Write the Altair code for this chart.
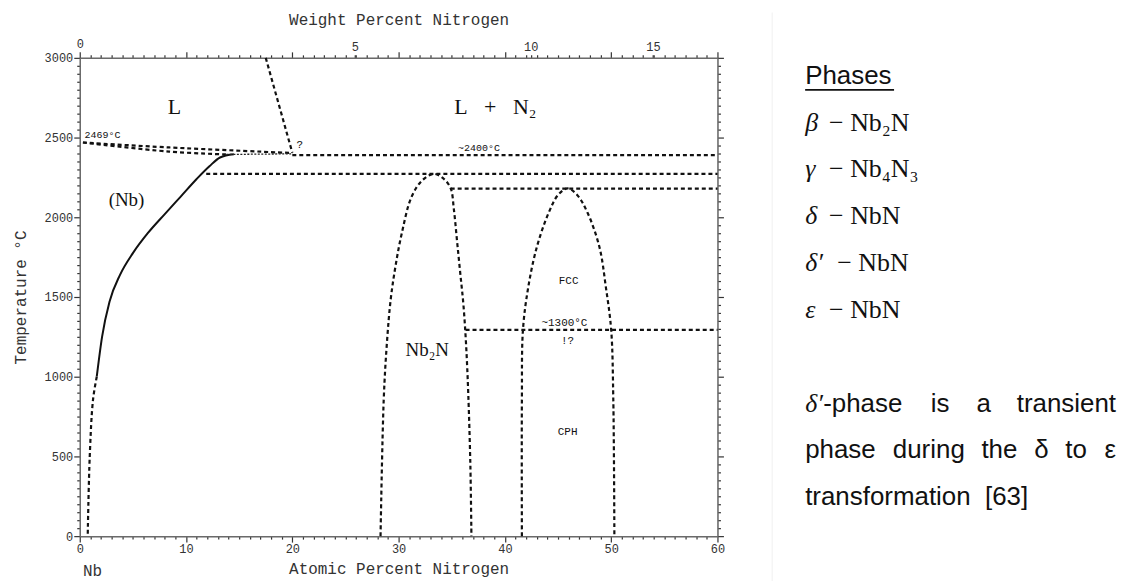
import altair as alt
import pandas as pd

# ---------------- axis tick values ----------------
at_minor = list(range(0, 61))            # atomic % ticks
t_minor = list(range(0, 3001, 50))       # temperature ticks
wt_labels = [0, 5, 10, 15]               # weight % labels on top axis


def wt_to_at(w):
    n = w / 14.007
    nb = (100 - w) / 92.906
    return round(100 * n / (n + nb), 3)


wt_pos = [wt_to_at(w) for w in wt_labels]

# ---------------- phase boundary data (atomic % N, temperature C) ----------------
nb_solvus_x = [1.6, 2.1, 2.8, 3.8, 5.0, 6.4, 8.0, 9.5, 11.0, 12.2, 13.2, 14.5]
nb_solvus_T = [1000, 1250, 1470, 1640, 1775, 1900, 2020, 2130, 2240, 2320, 2375, 2395]

nb_solvus_low_x = [1.6, 1.25, 0.94, 0.75]
nb_solvus_low_T = [1000, 856, 500, 0]

liquidus_x = [0.3, 8.4, 20.0]
liquidus_T = [2469, 2438, 2403]
solidus_x = [0.3, 8.4, 13.8]
solidus_T = [2469, 2412, 2394]
wavy_x = [13.8, 20.0]
wavy_T = [2394, 2398]
gas_x = [17.5, 20.0]
gas_T = [3000, 2405]

h2400_x = [20.0, 60]
h2400_T = [2390, 2390]
h2270_x = [11.9, 60]
h2270_T = [2272, 2272]
h2180_x = [34.9, 60]
h2180_T = [2180, 2180]
h1300_x = [36.3, 60]
h1300_T = [1294, 1294]

nb2n_x = [28.3, 28.6, 28.9, 29.25, 29.7, 30.3, 31.2, 32.2, 33.3, 34.2, 34.9, 35.2, 35.5, 35.8, 36.1, 36.35, 36.55, 36.75, 36.85]
nb2n_T = [0, 856, 1212, 1481, 1690, 1900, 2125, 2230, 2272, 2244, 2181, 2050, 1850, 1650, 1450, 1200, 900, 450, 0]

fcc_x = [41.6, 41.6, 41.7, 42.2, 43.0, 44.1, 45.0, 45.9, 46.8, 47.8, 48.9, 49.5, 50.0, 50.2, 50.3]
fcc_T = [0, 856, 1294, 1562, 1812, 2025, 2140, 2181, 2140, 2025, 1812, 1562, 1294, 856, 0]

dashed_segments = {
    "nb_low": (nb_solvus_low_x, nb_solvus_low_T),
    "liquidus": (liquidus_x, liquidus_T),
    "solidus": (solidus_x, solidus_T),
    "gas": (gas_x, gas_T),
    "h2400": (h2400_x, h2400_T),
    "h2270": (h2270_x, h2270_T),
    "h2180": (h2180_x, h2180_T),
    "h1300": (h1300_x, h1300_T),
    "nb2n": (nb2n_x, nb2n_T),
    "fcc": (fcc_x, fcc_T),
}


def to_df(segs):
    rows = []
    for name, (xs_, ts) in segs.items():
        for i, (x, t) in enumerate(zip(xs_, ts)):
            rows.append({"seg": name, "i": i, "x": x, "T": t})
    return pd.DataFrame(rows)


dash_df = to_df(dashed_segments)
solid_df = to_df({"nb": (nb_solvus_x, nb_solvus_T)})
wavy_df = to_df({"wavy": (wavy_x, wavy_T)})

# ---------------- labels in the diagram ----------------
NB = "\u00a0"
big_labels = pd.DataFrame({"x": [8.9, 39.1], "T": [2690, 2690],
                           "text": ["L", f"L{NB*3}+{NB*3}N₂"]})
mid_labels = pd.DataFrame({"x": [4.4, 32.7], "T": [2110, 1170], "text": ["(Nb)", "Nb₂N"]})
small_left = pd.DataFrame({"x": [0.45, 35.6], "T": [2515, 2432], "text": ["2469°C", "~2400°C"]})
small_center = pd.DataFrame({
    "x": [20.7, 45.6, 45.9, 46.0, 45.9],
    "T": [2455, 1335, 1225, 1600, 650],
    "text": ["?", "~1300°C", "!?", "FCC", "CPH"],
})
nb_label = pd.DataFrame({"x": [1.2], "T": [-220], "text": ["Nb"]})

# ---------------- side panel text ----------------
side_rows = [0, 7, 7, 7, 7, 8, 8, 8, 8, 8, 8, 9]
side_words = ["Phases", "-phase", "is", "a", "transient", "phase", "during", "the", "δ", "to", "ε",
              f"transformation{NB} [63]"]
side_pos = [0, 0.058, 0.404, 0.551, 1.0, 0, 0.282, 0.567, 0.737, 0.837, 1.0, 0]
side_align = ["left", "left", "left", "left", "right", "left", "left", "left", "left", "left", "right", "left"]
side_df = pd.DataFrame({"row": side_rows, "sx": side_pos, "text": side_words, "al": side_align})

greek_df = pd.DataFrame({"row": [1, 2, 3, 4, 5, 7], "sx": [0, 0, 0, 0, 0, 0],
                         "text": ["β", "γ", "δ", "δ′", "ε", "δ′"]})
formula_df = pd.DataFrame({"row": [1, 2, 3, 4, 5], "sx": [0.077, 0.077, 0.077, 0.103, 0.077],
                           "text": ["− Nb₂N", "− Nb₄N₃", "− NbN", "− NbN", "− NbN"]})
underline_df = pd.DataFrame({"row": [0.3], "sx": [0.0], "sx2": [0.286]})
sep_df = pd.DataFrame({"row": [-1.35], "row2": [10.8], "sx": [-0.106]})

# ---------------- scales & axes ----------------
xs = alt.Scale(domain=[0, 60], nice=False, zero=False)
ys = alt.Scale(domain=[0, 3000], nice=False, zero=False)

MONO = "Liberation Mono"
axis_common = dict(
    domainColor="#6a6a6a", domainWidth=1.5, tickColor="#333", tickWidth=1.2,
    labelFont=MONO, labelFontSize=12, labelColor="#333", grid=False,
    titleFont=MONO, titleFontSize=16, titleFontWeight="normal", titleColor="#333",
    labelOverlap=False, labelFlush=False,
)

bottom_axis = alt.Axis(
    orient="bottom", values=at_minor, format="d",
    labelExpr="datum.value % 10 === 0 ? datum.label : ''",
    tickSize={"condition": {"test": "datum.value % 10 === 0", "value": 6}, "value": 3},
    labelPadding=1, title="Atomic Percent Nitrogen", titlePadding=7, **axis_common,
)
left_axis = alt.Axis(
    orient="left", values=t_minor, format="d",
    labelExpr="datum.value % 500 === 0 ? datum.label : ''",
    tickSize={"condition": {"test": "datum.value % 500 === 0", "value": 6}, "value": 3},
    labelPadding=1, title="Temperature °C", titlePadding=16, **axis_common,
)
top_expr = " : ".join(
    f"abs(datum.value - {p}) < 0.001 ? '{w}'" for w, p in zip(wt_labels, wt_pos)
) + " : ''"
top_axis = alt.Axis(
    orient="top", values=at_minor + wt_pos[1:],
    labelExpr=top_expr,
    tickSize={"condition": {"test": "datum.value % 10 === 0", "value": 6}, "value": 3},
    labelPadding=1, title="Weight Percent Nitrogen", titlePadding=10, **axis_common,
)
right_axis = alt.Axis(
    orient="right", values=t_minor, labels=False, title=None,
    tickSize={"condition": {"test": "datum.value % 500 === 0", "value": 6}, "value": 3},
    **axis_common,
)

dashed = alt.Chart(dash_df).mark_line(
    color="#111", strokeWidth=2.2, strokeDash=[4, 3], interpolate="catmull-rom"
).encode(
    x=alt.X("x:Q", scale=xs, axis=bottom_axis),
    y=alt.Y("T:Q", scale=ys, axis=left_axis),
    detail="seg:N", order="i:Q",
)
solid = alt.Chart(solid_df).mark_line(
    color="#111", strokeWidth=2.0, interpolate="monotone"
).encode(
    x=alt.X("x:Q", scale=xs, axis=top_axis),
    y=alt.Y("T:Q", scale=ys, axis=right_axis),
    order="i:Q",
)
wavy = alt.Chart(wavy_df).mark_line(color="#222", strokeWidth=1.3, strokeDash=[2, 1.5]).encode(
    x=alt.X("x:Q", scale=xs, axis=None), y=alt.Y("T:Q", scale=ys, axis=None), order="i:Q"
)


def txt(df, **mk):
    return alt.Chart(df).mark_text(**mk).encode(
        x=alt.X("x:Q", scale=xs, axis=None), y=alt.Y("T:Q", scale=ys, axis=None), text="text:N"
    )


t_big = txt(big_labels, font="Liberation Serif", fontSize=22, color="#111", align="center", baseline="middle")
t_mid = txt(mid_labels, font="Liberation Serif", fontSize=19, color="#111", align="center", baseline="middle")
t_sl = txt(small_left, font=MONO, fontSize=10, color="#111", align="left", baseline="middle")
t_sc = txt(small_center, font=MONO, fontSize=11, color="#111", align="center", baseline="middle")
t_nb = txt(nb_label, font=MONO, fontSize=16, color="#333", align="center", baseline="middle")

main = alt.layer(dashed, solid, wavy, t_big, t_mid, t_sl, t_sc, t_nb).resolve_axis(
    x="independent", y="independent"
)

# side panel (own scales)
sxs = alt.Scale(domain=[0, 1], range=[728, 1040])
sys_ = alt.Scale(domain=[0, 9], range=[18, 441])
SANS = "Liberation Sans"

side_left = alt.Chart(side_df[side_df.al == "left"]).mark_text(
    font=SANS, fontSize=26, color="#111", baseline="middle", align="left"
).encode(x=alt.X("sx:Q", scale=sxs, axis=None), y=alt.Y("row:Q", scale=sys_, axis=None), text="text:N")
side_right = alt.Chart(side_df[side_df.al == "right"]).mark_text(
    font=SANS, fontSize=26, color="#111", baseline="middle", align="right"
).encode(x=alt.X("sx:Q", scale=sxs, axis=None), y=alt.Y("row:Q", scale=sys_, axis=None), text="text:N")
side_greek = alt.Chart(greek_df).mark_text(
    font="Liberation Serif", fontStyle="italic", fontSize=26, color="#111", baseline="middle", align="left"
).encode(x=alt.X("sx:Q", scale=sxs, axis=None), y=alt.Y("row:Q", scale=sys_, axis=None), text="text:N")
side_formula = alt.Chart(formula_df).mark_text(
    font="Liberation Serif", fontSize=26, color="#111", baseline="middle", align="left"
).encode(x=alt.X("sx:Q", scale=sxs, axis=None), y=alt.Y("row:Q", scale=sys_, axis=None), text="text:N")
side_ul = alt.Chart(underline_df).mark_rule(color="#111", strokeWidth=1.6).encode(
    x=alt.X("sx:Q", scale=sxs, axis=None), x2="sx2:Q", y=alt.Y("row:Q", scale=sys_, axis=None)
)
side_sep = alt.Chart(sep_df).mark_rule(color="#f0f0f0", strokeWidth=1).encode(
    x=alt.X("sx:Q", scale=sxs, axis=None), y=alt.Y("row:Q", scale=sys_, axis=None), y2="row2:Q"
)

side = alt.layer(side_sep, side_left, side_right, side_greek, side_formula, side_ul)

chart = alt.layer(main, side).resolve_scale(x="independent", y="independent").resolve_axis(
    x="independent", y="independent"
).properties(
    width=640, height=480,
    autosize=alt.AutoSizeParams(type="none"),
    padding={"left": 72, "top": 49, "right": 410, "bottom": 44},
).configure_view(stroke=None).configure(background="white")

chart.save("out.html", embed_options={"renderer": "svg", "actions": False})
